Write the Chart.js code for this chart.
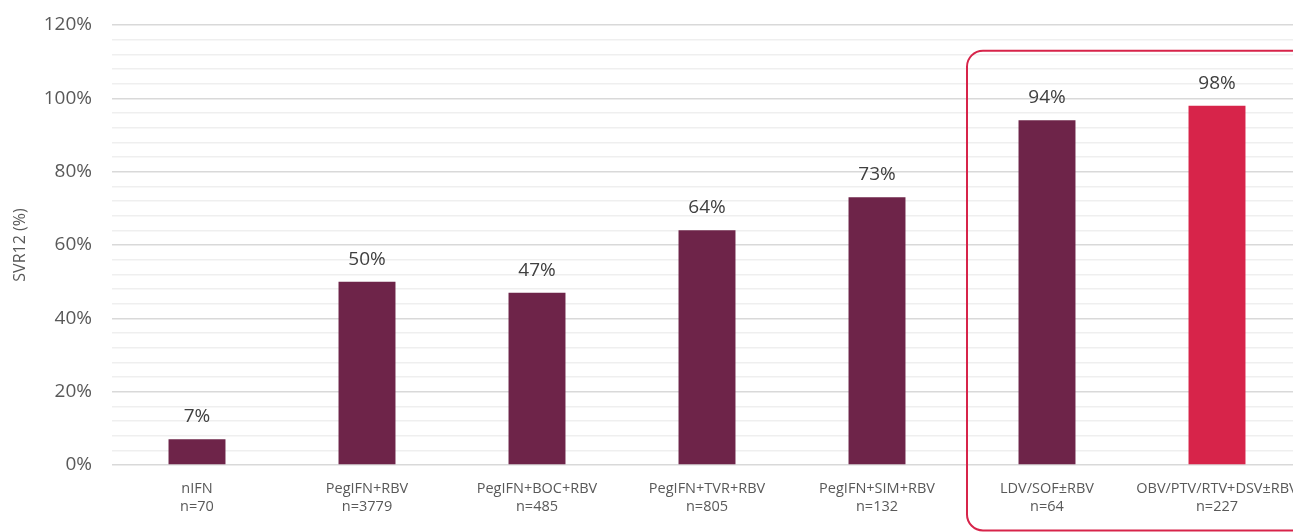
<!DOCTYPE html>
<html>
<head>
<meta charset="utf-8">
<script src="https://cdn.jsdelivr.net/npm/chart.js@4/dist/chart.umd.min.js"></script>
<style>
  html, body { margin: 0; padding: 0; background: #ffffff; overflow: hidden; }
  #wrap { position: relative; width: 1302px; height: 532px; }
</style>
</head>
<body>
<div id="wrap"><canvas id="c"></canvas></div>
<script>
// ---- data ----
const categories = [
  ['nIFN', 'n=70'],
  ['PegIFN+RBV', 'n=3779'],
  ['PegIFN+BOC+RBV', 'n=485'],
  ['PegIFN+TVR+RBV', 'n=805'],
  ['PegIFN+SIM+RBV', 'n=132'],
  ['LDV/SOF±RBV', 'n=64'],
  ['OBV/PTV/RTV+DSV±RBV', 'n=227']
];
const svr12 = [7, 50, 47, 64, 73, 94, 98];
const valueLabels = ['7%', '50%', '47%', '64%', '73%', '94%', '98%'];
const barColors = ['#6E2449', '#6E2449', '#6E2449', '#6E2449', '#6E2449', '#6E2449', '#D7244A'];
const yTicks = [0, 20, 40, 60, 80, 100, 120];
const highlightFrom = 5; // first highlighted category

const FONT = '"Open Sans", "Noto Sans", sans-serif';

const valueLabelPlugin = {
  id: 'valueLabels',
  afterDatasetsDraw(chart) {
    const ctx = chart.ctx;
    const meta = chart.getDatasetMeta(0);
    ctx.save();
    ctx.fillStyle = '#404040';
    ctx.font = '19px ' + FONT;
    ctx.textAlign = 'center';
    ctx.textBaseline = 'alphabetic';
    meta.data.forEach((bar, i) => {
      ctx.fillText(valueLabels[i], bar.x, bar.y - 17);
    });
    ctx.restore();
  }
};

const highlightBoxPlugin = {
  id: 'highlightBox',
  afterDraw(chart) {
    const x = chart.scales.x, y = chart.scales.y;
    const half = (x.getPixelForValue(1) - x.getPixelForValue(0)) / 2;
    const left = x.getPixelForValue(highlightFrom) - half + 5;
    const top = y.getPixelForValue(113);
    const bottom = chart.height - 1.5;
    const right = chart.width + 30;
    const r = 16;
    const ctx = chart.ctx;
    ctx.save();
    ctx.strokeStyle = '#D7244A';
    ctx.lineWidth = 2;
    ctx.beginPath();
    ctx.moveTo(right, top);
    ctx.lineTo(left + r, top);
    ctx.arcTo(left, top, left, top + r, r);
    ctx.lineTo(left, bottom - r);
    ctx.arcTo(left, bottom, left + r, bottom, r);
    ctx.lineTo(right, bottom);
    ctx.stroke();
    ctx.restore();
  }
};

new Chart(document.getElementById('c'), {
  type: 'bar',
  data: {
    labels: categories,
    datasets: [{
      data: svr12,
      backgroundColor: barColors,
      borderWidth: 0,
      categoryPercentage: 1,
      barPercentage: 0.335
    }]
  },
  options: {
    responsive: true,
    maintainAspectRatio: false,
    animation: false,
    layout: { padding: { top: 25, right: 0, left: 0, bottom: 0 } },
    plugins: { legend: { display: false }, tooltip: { enabled: false } },
    scales: {
      x: {
        grid: { display: false, drawTicks: false },
        border: { display: false },
        ticks: {
          color: '#595959',
          font: { family: FONT, size: 14.5, lineHeight: 1.25 },
          maxRotation: 0,
          autoSkip: false,
          padding: 15
        },
        afterFit(scale) {
          scale.height = 67;
          scale.paddingLeft = 0;
          scale.paddingRight = 0;
        }
      },
      y: {
        min: 0,
        max: 120,
        grid: {
          drawTicks: false,
          lineWidth: 1.5,
          color(ctx) {
            const v = ctx.tick ? ctx.tick.value : 0;
            return yTicks.includes(v) ? '#d9d9d9' : '#efefef';
          }
        },
        border: { display: false },
        ticks: {
          stepSize: 4,
          autoSkip: false,
          color: '#595959',
          font: { family: FONT, size: 19 },
          padding: 20,
          callback(v) { return yTicks.includes(v) ? v + '%' : ''; }
        },
        title: {
          display: true,
          text: 'SVR12 (%)',
          color: '#595959',
          font: { family: FONT, size: 16 },
          padding: { top: 11, bottom: 4 }
        },
        afterFit(scale) {
          scale.width = 112;
          scale.paddingTop = 0;
          scale.paddingBottom = 0;
        }
      }
    }
  },
  plugins: [valueLabelPlugin, highlightBoxPlugin]
});
</script>
</body>
</html>
